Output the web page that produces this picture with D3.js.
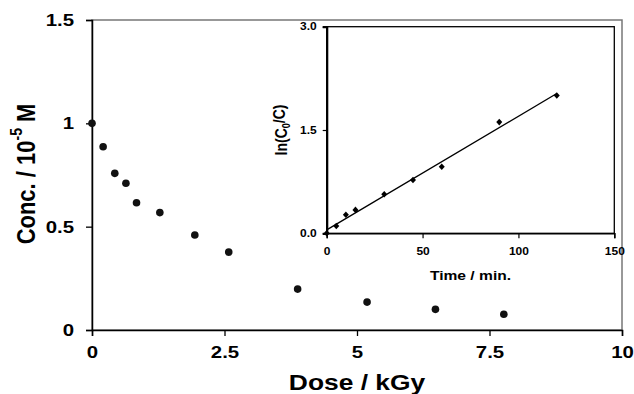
<!DOCTYPE html>
<html>
<head>
<meta charset="utf-8">
<script src="https://cdn.jsdelivr.net/npm/d3@7"></script>
<style>
  body { margin: 0; background: #fff; }
  svg text { font-family: "Liberation Sans", Arial, sans-serif; font-weight: bold; fill: #000; }
</style>
</head>
<body>
<div id="chart"></div>
<script>
// main plot: concentration vs dose
const dose = [0, 0.21, 0.43, 0.64, 0.84, 1.28, 1.94, 2.58, 3.88, 5.19, 6.48, 7.77];
const conc = [1.0, 0.887, 0.758, 0.71, 0.616, 0.568, 0.46, 0.377, 0.198, 0.135, 0.10, 0.076];
const doseTicks = [0, 2.5, 5, 7.5, 10];
const concTicks = [0, 0.5, 1, 1.5];

// inset: ln(C0/C) vs time
const time = [0, 5, 10, 15, 30, 45, 60, 90, 120];
const lnRatio = [0, 0.106, 0.27, 0.34, 0.566, 0.774, 0.967, 1.615, 2.0];
const timeTicks = [0, 50, 100, 150];
const lnTicks = [0, 1.5, 3.0];

const W = 634, H = 394;
const SX = 1.2; // text in the picture is a bit wide

const svg = d3.select("#chart").append("svg")
    .attr("width", W).attr("height", H);

function stretch(sel) {
    sel.each(function() {
        const t = d3.select(this);
        const x = +t.attr("x") || 0;
        t.attr("x", x / SX).attr("transform", "scale(" + SX + ",1)");
    });
}

// ---- main chart ----
const m = {left: 92, top: 20, right: 12, bottom: 64};
const x = d3.scaleLinear().domain([0, 10]).range([m.left, W - m.right]);
const y = d3.scaleLinear().domain([0, 1.5]).range([H - m.bottom, m.top]);

// grey frame of plot area
svg.append("rect")
    .attr("x", x(0)).attr("y", y(1.5))
    .attr("width", x(10) - x(0)).attr("height", y(0) - y(1.5))
    .attr("fill", "none").attr("stroke", "#777").attr("stroke-width", 1.5);

const xAxis = svg.append("g")
    .attr("transform", "translate(0," + y(0) + ")")
    .call(d3.axisBottom(x).tickValues(doseTicks).tickSize(6).tickPadding(10).tickFormat(d3.format("")));
const yAxis = svg.append("g")
    .attr("transform", "translate(" + x(0) + ",0)")
    .call(d3.axisLeft(y).tickValues(concTicks).tickSize(6).tickPadding(12).tickFormat(d3.format("")));

[xAxis, yAxis].forEach(function(a) {
    a.select(".domain").attr("stroke", "#000").attr("stroke-width", 1.5);
    a.selectAll(".tick line").attr("stroke", "#000").attr("stroke-width", 1.3);
    a.selectAll(".tick text").attr("font-size", 17).attr("font-family", null).call(stretch);
});

svg.append("g").selectAll("circle")
    .data(dose.map(function(d, i) { return {x: d, y: conc[i]}; }))
    .enter().append("circle")
    .attr("cx", function(d) { return x(d.x); })
    .attr("cy", function(d) { return y(d.y); })
    .attr("r", 3.8)
    .attr("fill", "#111");

// axis titles
const xt = svg.append("g")
    .attr("transform", "translate(" + (x(0) + x(10)) / 2 + ",390) scale(" + SX + ",1)");
xt.append("text").attr("text-anchor", "middle").attr("font-size", 22).text("Dose / kGy");

const yt = svg.append("g")
    .attr("transform", "translate(35,174) scale(" + SX + ",1) rotate(-90)");
const ytText = yt.append("text").attr("text-anchor", "middle").attr("font-size", 22);
ytText.append("tspan").text("Conc. / 10");
ytText.append("tspan").attr("font-size", 14).attr("dy", "-0.75em").text("-5");
ytText.append("tspan").attr("dy", "0.48em").text(" M");

// ---- inset ----
const ix = d3.scaleLinear().domain([0, 150]).range([326.7, 614.3]);
const iy = d3.scaleLinear().domain([0, 3]).range([233.3, 26.7]);

svg.append("rect")
    .attr("x", ix(0)).attr("y", iy(3))
    .attr("width", ix(150) - ix(0)).attr("height", iy(0) - iy(3))
    .attr("fill", "#fff").attr("stroke", "#000").attr("stroke-width", 1.3);

const ixAxis = svg.append("g")
    .attr("transform", "translate(0," + iy(0) + ")")
    .call(d3.axisBottom(ix).tickValues(timeTicks).tickSize(5).tickPadding(10));
const iyAxis = svg.append("g")
    .attr("transform", "translate(" + ix(0) + ",0)")
    .call(d3.axisLeft(iy).tickValues(lnTicks).tickSize(4).tickPadding(6).tickFormat(d3.format(".1f")));

ixAxis.select(".domain").attr("stroke", "#000").attr("stroke-width", 1.5);
iyAxis.select(".domain").attr("stroke", "#000").attr("stroke-width", 2.2);
[ixAxis, iyAxis].forEach(function(a) {
    a.selectAll(".tick line").attr("stroke", "#000").attr("stroke-width", 1.2);
    a.selectAll(".tick text").attr("font-size", 10).attr("font-family", null).call(stretch);
});

// least squares fit line
const n = time.length;
const mx = d3.mean(time), my = d3.mean(lnRatio);
const sxy = d3.sum(time, function(t, i) { return (t - mx) * (lnRatio[i] - my); });
const sxx = d3.sum(time, function(t) { return (t - mx) * (t - mx); });
const slope = sxy / sxx, icpt = my - slope * mx;
const fitX = [0, d3.max(time)];

svg.append("path")
    .datum(fitX)
    .attr("d", d3.line()
        .x(function(t) { return ix(t); })
        .y(function(t) { return iy(icpt + slope * t); }))
    .attr("fill", "none").attr("stroke", "#000").attr("stroke-width", 1.3);

svg.append("g").selectAll("path")
    .data(time.map(function(t, i) { return {x: t, y: lnRatio[i]}; }))
    .enter().append("path")
    .attr("transform", function(d) { return "translate(" + ix(d.x) + "," + iy(d.y) + ")"; })
    .attr("d", "M0,-3.3L3,0L0,3.3L-3,0Z")
    .attr("fill", "#000");

const ixt = svg.append("g")
    .attr("transform", "translate(" + (ix(0) + ix(150)) / 2 + ",280) scale(" + SX + ",1)");
ixt.append("text").attr("text-anchor", "middle").attr("font-size", 13).text("Time / min.");

const iyt = svg.append("g")
    .attr("transform", "translate(287," + (iy(0) + iy(3)) / 2 + ") scale(" + SX + ",1) rotate(-90)");
const iytText = iyt.append("text").attr("text-anchor", "middle").attr("font-size", 14);
iytText.append("tspan").text("ln(C");
iytText.append("tspan").attr("font-size", 9).attr("dy", "0.3em").text("0");
iytText.append("tspan").attr("dy", "-0.3em").text("/C)");
</script>
</body>
</html>
